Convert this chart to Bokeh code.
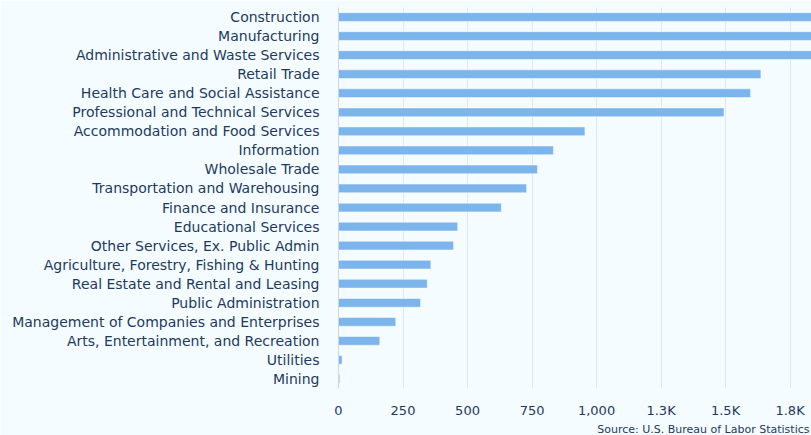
from bokeh.plotting import figure
from bokeh.models import FactorRange, FixedTicker, Title, ColumnDataSource, Range1d
from bokeh.embed import file_html
from bokeh.resources import INLINE

industries = [
    "Construction", "Manufacturing", "Administrative and Waste Services",
    "Retail Trade", "Health Care and Social Assistance",
    "Professional and Technical Services", "Accommodation and Food Services",
    "Information", "Wholesale Trade", "Transportation and Warehousing",
    "Finance and Insurance", "Educational Services",
    "Other Services, Ex. Public Admin", "Agriculture, Forestry, Fishing & Hunting",
    "Real Estate and Rental and Leasing", "Public Administration",
    "Management of Companies and Enterprises",
    "Arts, Entertainment, and Recreation", "Utilities", "Mining",
]
values = [2150, 2050, 1950, 1637, 1597, 1494, 955, 833, 771, 729,
          631, 462, 446, 358, 344, 318, 222, 160, 14, 5]
tick_values = [0, 250, 500, 750, 1000, 1250, 1500, 1750]
tick_labels = ["0", "250", "500", "750", "1,000", "1.3K", "1.5K", "1.8K"]

BG = "#f5fcff"
TXT = "#1c3a60"
FONT = "DejaVu Sans"

src = ColumnDataSource(dict(ind=industries, val=values))

p = figure(width=811, height=435, output_backend="svg", toolbar_location=None,
           y_range=FactorRange(*reversed(industries)),
           x_range=Range1d(0, 1833),
           min_border_left=338, min_border_right=0, min_border_top=7,
           min_border_bottom=0)
p.background_fill_color = BG
p.border_fill_color = BG
p.outline_line_color = None

p.hbar(y="ind", right="val", left=0, height=0.46, source=src,
       fill_color="#7cb5ec", line_color="white", line_alpha=0.5, line_width=1)

p.xaxis.ticker = FixedTicker(ticks=tick_values)
p.xaxis.major_label_overrides = {v: l for v, l in zip(tick_values, tick_labels)}
p.xaxis.axis_line_color = None
p.xaxis.major_tick_line_color = None
p.xaxis.minor_tick_line_color = None
p.xaxis.major_tick_out = 0
p.xaxis.major_tick_in = 0
p.xaxis.major_label_text_color = TXT
p.xaxis.major_label_text_font = FONT
p.xaxis.major_label_text_font_size = "13px"
p.xaxis.major_label_standoff = 14

p.yaxis.axis_line_color = "#ccd6eb"
p.yaxis.major_tick_line_color = None
p.yaxis.minor_tick_line_color = None
p.yaxis.major_tick_out = 0
p.yaxis.major_tick_in = 0
p.yaxis.major_label_text_color = TXT
p.yaxis.major_label_text_font = FONT
p.yaxis.major_label_text_font_size = "14px"
p.yaxis.major_label_standoff = 19

p.xgrid.grid_line_color = "#e6e6e6"
p.ygrid.grid_line_color = None

p.add_layout(Title(text="Source: U.S. Bureau of Labor Statistics",
                   align="right", offset=2, standoff=0,
                   text_font=FONT, text_font_size="11px", text_color=TXT,
                   text_font_style="normal"), "below")

open("out.html", "w").write(file_html(p, INLINE))
